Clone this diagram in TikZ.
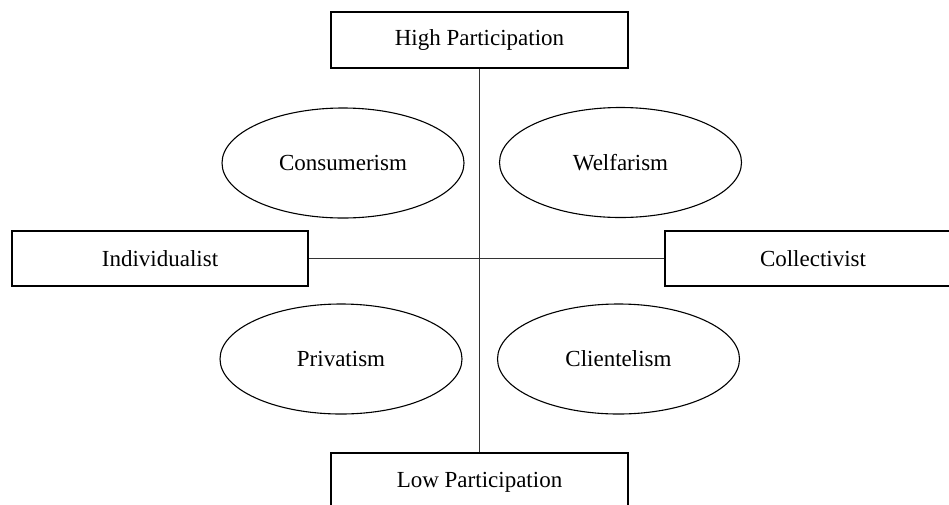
\documentclass[tikz,border=0pt]{standalone}
\usepackage{fontspec}
\setmainfont{Liberation Serif}
\usetikzlibrary{shapes.geometric}
\begin{document}
\begin{tikzpicture}[x=1pt,y=-1pt,
  lbl/.style={font=\fontsize{23}{26}\selectfont},
  boxnode/.style={draw, line width=1.6pt, rectangle, inner sep=0pt, lbl},
  ovalnode/.style={draw, line width=1.1pt, ellipse, inner sep=0pt, minimum width=242pt, minimum height=110pt, lbl},
  axis/.style={line width=1.5pt, draw=black!80}]
\useasboundingbox (0,0) rectangle (949,504);
\node[boxnode, minimum width=297pt, minimum height=56pt] (high) at (479.5,40) {High Participation};
\node[boxnode, minimum width=296pt, minimum height=55pt] (ind) at (160,258.5) {Individualist};
\node[boxnode, minimum width=300pt, minimum height=55pt, text width=284pt, align=left] (col) at (815,258.5) {\hspace*{87pt}Collectivist};
\node[boxnode, minimum width=297pt, minimum height=56pt] (low) at (479.5,481) {};
\node[lbl] (lowt) at (479.5,482) {Low Participation};
\node[ovalnode] (cons) at (343,163) {Consumerism};
\node[ovalnode] (welf) at (620.5,162.5) {Welfarism};
\node[ovalnode] (priv) at (341,359) {Privatism};
\node[ovalnode] (cli) at (618.5,359) {Clientelism};
\draw[axis] (high.south) -- (low.north);
\draw[axis] (ind.east) -- (col.west);
\end{tikzpicture}
\end{document}
